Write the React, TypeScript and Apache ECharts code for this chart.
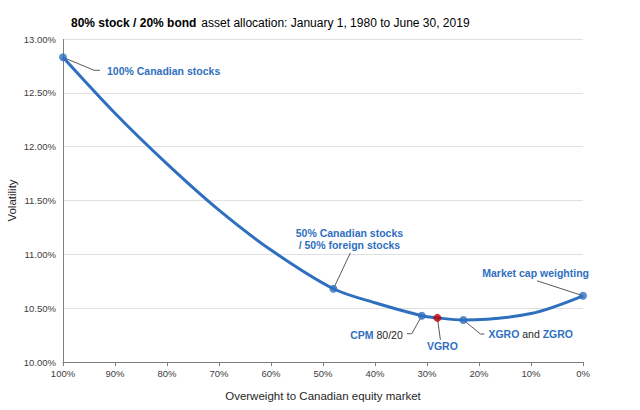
import React, { useEffect, useRef } from "react";
import * as echarts from "echarts";

// Curve: overweight to Canadian equity (%) vs volatility (%)
const curveX = [100, 90, 80, 70, 60, 48, 40, 31, 28, 23, 10, 0];
const curveY = [12.83, 12.31, 11.84, 11.41, 11.04, 10.68, 10.55, 10.43, 10.41, 10.39, 10.45, 10.615];

// Highlighted portfolios
const pointX = [100, 48, 31, 28, 23, 0];
const pointY = [12.83, 10.68, 10.43, 10.41, 10.39, 10.615];
const pointRed = [false, false, false, true, false, false];

const titleBold = "80% stock / 20% bond";
const titleRest = "asset allocation: January 1, 1980 to June 30, 2019";
const xName = "Overweight to Canadian equity market";
const yName = "Volatility";

const BLUE = "#2f6fbf";
const RED = "#c00000";
const DARK = "#262626";
const LEADER = "#595959";
const AXIS = "#7f7f7f";
const FONT = "'Liberation Sans', Arial, sans-serif";

export default function App() {
  const ref = useRef<HTMLDivElement>(null);
  useEffect(() => {
    if (!ref.current) return;
    document.body.style.margin = "0";
    const chart = echarts.init(ref.current, undefined, { renderer: "svg" });
    chart.setOption({
      animation: false,
      textStyle: { fontFamily: FONT },
      title: {
        text: `{b|${titleBold}} {n|${titleRest}}`,
        left: 66,
        top: 9,
        textStyle: {
          fontWeight: "normal",
          rich: {
            b: { fontFamily: FONT, fontSize: 12, fontWeight: "bold", color: "#000" },
            n: { fontFamily: FONT, fontSize: 12, fontWeight: "normal", color: "#000" },
          },
        },
      },
      grid: { left: 63, right: 57, top: 39, bottom: 48, outerBoundsMode: "none", containLabel: false, show: false },
      xAxis: {
        type: "value",
        min: 0,
        max: 100,
        interval: 10,
        inverse: true,
        name: xName,
        nameLocation: "middle",
        nameGap: 28,
        nameMoveOverlap: false,
        nameTextStyle: { fontFamily: FONT, fontSize: 11.5, color: DARK },
        axisLine: { show: true, onZero: false, lineStyle: { color: AXIS } },
        axisTick: { show: true, length: 4, lineStyle: { color: AXIS } },
        axisLabel: { formatter: (v: number) => `${v}%`, fontSize: 9.5, color: "#404040", margin: 6 },
        splitLine: { show: false },
        minorSplitLine: { show: false },
      },
      yAxis: {
        type: "value",
        min: 10,
        max: 13,
        interval: 0.5,
        position: "left",
        name: yName,
        nameLocation: "middle",
        nameGap: 45,
        nameMoveOverlap: false,
        nameTextStyle: { fontFamily: FONT, fontSize: 11.5, color: DARK },
        axisLine: { show: false },
        axisTick: { show: false },
        axisLabel: { formatter: (v: number) => `${v.toFixed(2)}%`, fontSize: 9.5, color: "#404040", margin: 7 },
        splitLine: { show: true, lineStyle: { color: "#e0e0e0" } },
      },
      series: [
        {
          type: "line",
          data: curveX.map((x, i) => [x, curveY[i]]),
          smooth: 0.3,
          showSymbol: false,
          lineStyle: { color: BLUE, width: 3 },
          z: 2,
        },
        {
          type: "scatter",
          data: pointX.map((x, i) => ({
            value: [x, pointY[i]],
            itemStyle: { color: pointRed[i] ? RED : BLUE },
          })),
          symbolSize: 8,
          z: 3,
        },
      ],
    });

    const px = pointX.map((x, i) => chart.convertToPixel({ gridIndex: 0 }, [x, pointY[i]]) as number[]);
    const axTop = chart.convertToPixel({ gridIndex: 0 }, [100, 13]) as number[];
    const axBot = chart.convertToPixel({ gridIndex: 0 }, [100, 10]) as number[];
    const line = (pts: number[][], color = LEADER) => ({
      type: "polyline",
      shape: { points: pts },
      style: { stroke: color, lineWidth: 1, fill: null },
      z: 1,
    });
    const FS = 10.5;
    const txt = (x: number, y: number, text: string, align: string, rich?: any) => ({
      type: "text",
      x,
      y,
      style: {
        text,
        align,
        verticalAlign: "middle",
        fill: BLUE,
        fontFamily: FONT,
        fontSize: FS,
        fontWeight: "bold",
        lineHeight: 12,
        rich,
      },
      z: 5,
    });
    const richDef = {
      b: { fill: BLUE, color: BLUE, fontFamily: FONT, fontSize: FS, fontWeight: "bold" },
      n: { fill: DARK, color: DARK, fontFamily: FONT, fontSize: FS, fontWeight: "normal" },
    };
    const [p100, p50, pCPM, pV, pX, pM] = px;
    const ax = Math.round(axTop[0]) + 0.5;
    chart.setOption({
      graphic: [
        line([[ax, axTop[1]], [ax, axBot[1]]], AXIS),
        line([p100, [p100[0] + 31, p100[1] + 13], [p100[0] + 37, p100[1] + 13]]),
        txt(p100[0] + 44, p100[1] + 14, "100% Canadian stocks", "left"),
        line([p50, [p50[0] + 17, p50[1] - 36]]),
        txt(p50[0] + 16, p50[1] - 50, "50% Canadian stocks\n/ 50% foreign stocks", "center"),
        line([pCPM, [pCPM[0] - 10, pCPM[1] + 18], [pCPM[0] - 15, pCPM[1] + 18]]),
        txt(pCPM[0] - 19, pCPM[1] + 19, "{b|CPM} {n|80/20}", "right", richDef),
        line([pV, [pV[0] + 3, pV[1] + 22]]),
        txt(pV[0] + 5, pV[1] + 28, "VGRO", "center"),
        line([pX, [pX[0] + 17, pX[1] + 14], [pX[0] + 21, pX[1] + 14]]),
        txt(pX[0] + 25, pX[1] + 14, "{b|XGRO} {n|and} {b|ZGRO}", "left", richDef),
        line([pM, [pM[0] - 46, pM[1] - 15]]),
        txt(pM[0] + 6, pM[1] - 23, "Market cap weighting", "right"),
      ],
    });
    return () => chart.dispose();
  }, []);
  return <div ref={ref} style={{ width: 640, height: 410 }} />;
}
